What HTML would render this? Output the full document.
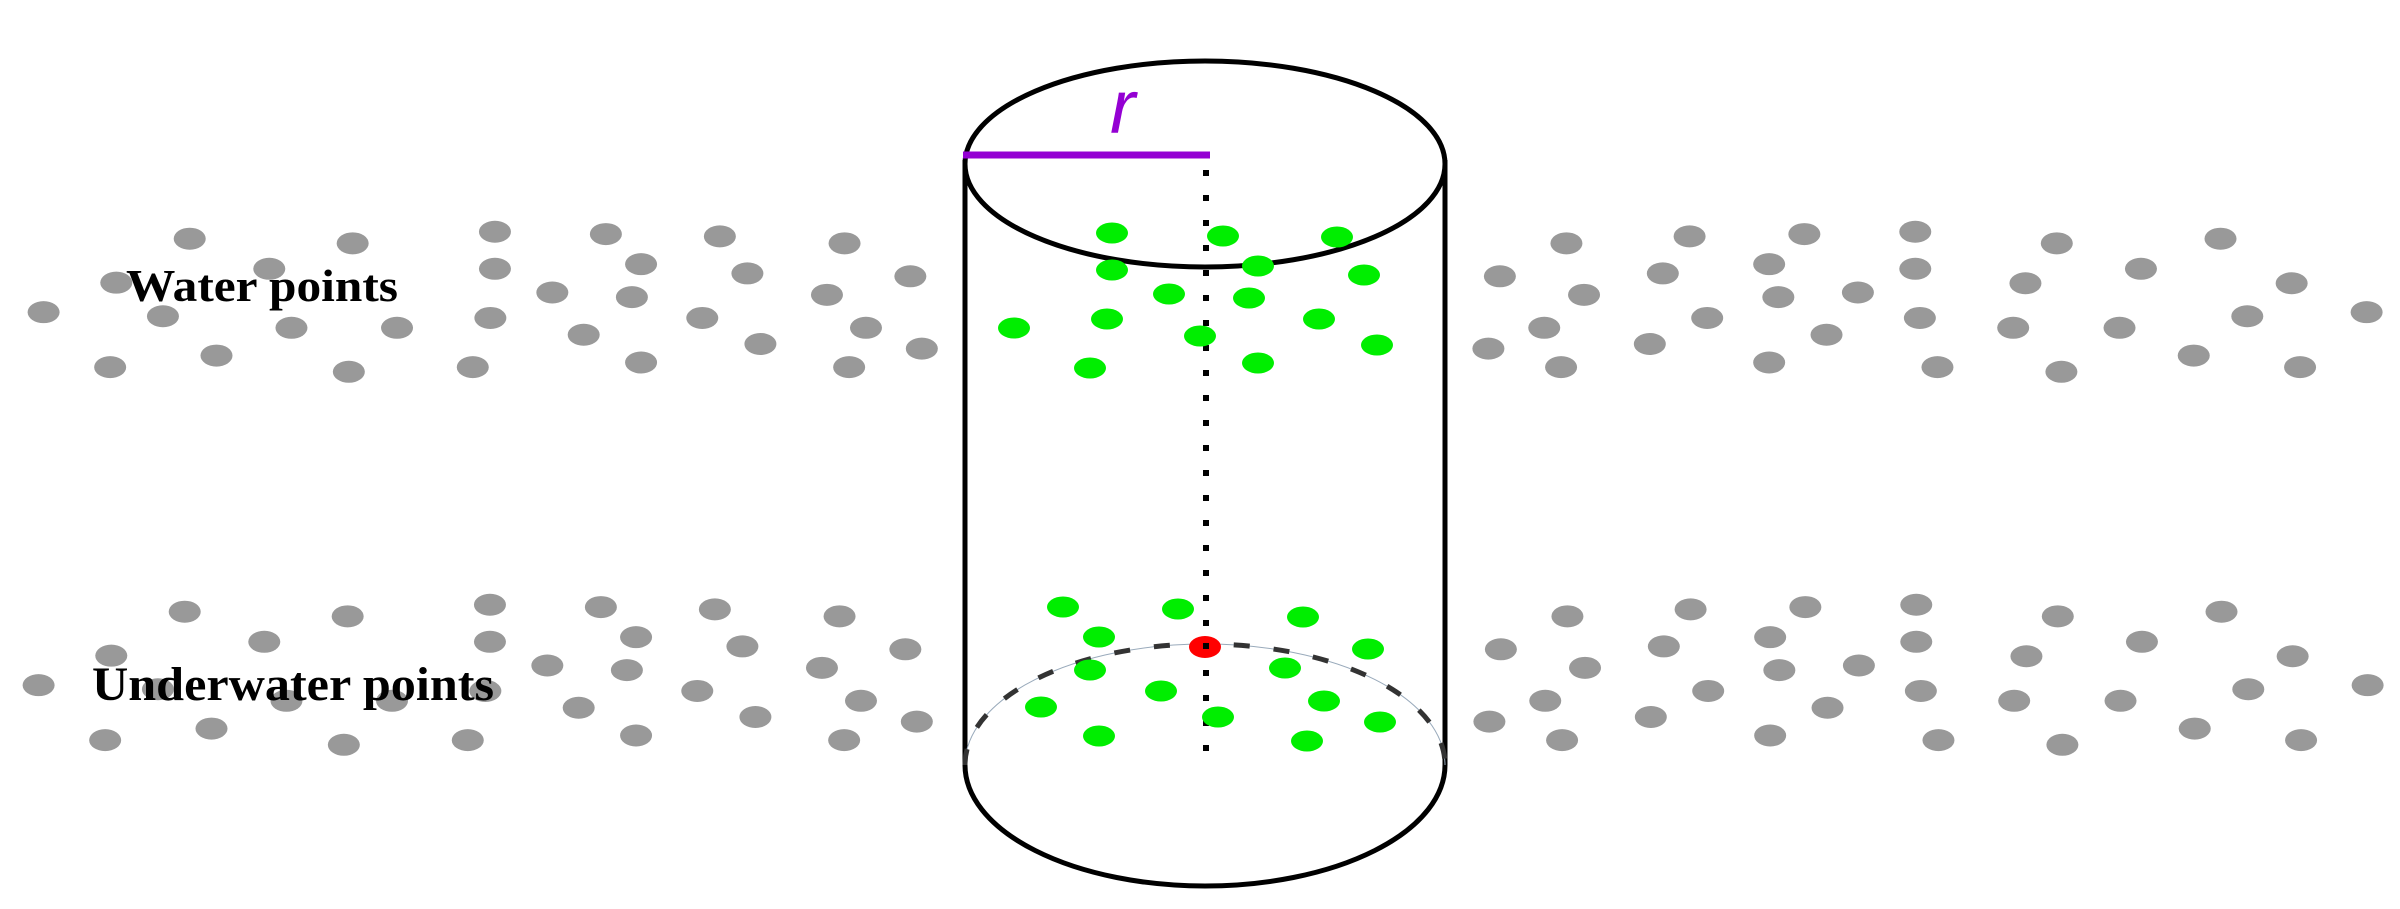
<!DOCTYPE html>
<html><head><meta charset="utf-8"><style>
html,body{margin:0;padding:0;background:#fff;width:2400px;height:909px;overflow:hidden}
</style></head><body>
<svg id="s" width="2400" height="909" viewBox="0 0 2400 909" xmlns="http://www.w3.org/2000/svg">
<g id="gray" fill="#999"></g>
<text x="126" y="301" font-family="Liberation Serif, serif" font-weight="bold" font-size="46" textLength="272" lengthAdjust="spacingAndGlyphs" fill="#000">Water points</text>
<text x="92" y="700" font-family="Liberation Serif, serif" font-weight="bold" font-size="48" textLength="402" lengthAdjust="spacingAndGlyphs" fill="#000">Underwater points</text>
<!-- cylinder -->
<line x1="965" y1="160" x2="965" y2="765" stroke="#000" stroke-width="5"/>
<line x1="1445" y1="160" x2="1445" y2="765" stroke="#000" stroke-width="5"/>
<ellipse cx="1205" cy="164" rx="240" ry="103" fill="none" stroke="#000" stroke-width="5"/>
<path d="M965 765 A240 121 0 0 0 1445 765" fill="none" stroke="#000" stroke-width="5"/>
<path d="M965 765 A240 121 0 0 1 1445 765" fill="none" stroke="#9ab" stroke-width="1"/>
<path d="M965 765 A240 121 0 0 1 1445 765" fill="none" stroke="#333" stroke-width="5" stroke-dasharray="16 24"/>
<line x1="1206" y1="170" x2="1206" y2="770" stroke="#000" stroke-width="6" stroke-dasharray="6 19"/>
<line x1="963" y1="155" x2="1210" y2="155" stroke="#9400d3" stroke-width="7"/>
<text x="1110" y="133" font-family="Liberation Sans, sans-serif" font-style="italic" font-size="76" fill="#9400d3">r</text>
<g id="green" fill="#00ee00"></g>
<ellipse cx="1205" cy="647" rx="16" ry="11" fill="#ff0000"/>
<rect x="1203" y="643" width="6" height="6" fill="#000"/>
</svg>
<script>
var NS="http://www.w3.org/2000/svg";
function add(g,x,y,rx,ry){var e=document.createElementNS(NS,"ellipse");e.setAttribute("cx",x);e.setAttribute("cy",y);e.setAttribute("rx",rx);e.setAttribute("ry",ry);document.getElementById(g).appendChild(e);}
var L=[[248,412],[461,420],[647,400],[792,404],[941,408],[1104,420],[352,464],[152,488],[647,464],[838,456],[977,472],[1190,477],[722,505],[826,513],[1081,509],[57,539],[213,546],[641,549],[918,549],[381,566],[519,566],[1132,566],[763,578],[994,594],[1205,602],[283,614],[144,634],[456,642],[618,634],[838,626],[1110,634]];
var R=[[479,420],[640,408],[790,404],[935,400],[1120,420],[1334,412],[392,477],[605,472],[744,456],[935,464],[1079,489],[1230,464],[1427,489],[502,509],[756,513],[860,505],[450,566],[663,549],[941,549],[1063,566],[1202,566],[1369,546],[1525,539],[377,602],[588,594],[819,578],[472,634],[744,626],[964,634],[1126,642],[1299,614],[1438,634]];
function fy(z){return 238.7+(z-412)*0.5786;}
L.forEach(function(p){var x=p[0]*0.765,y=fy(p[1]);add("gray",x,y,16,11);add("gray",x-5,y+373,16,11);});
R.forEach(function(p){var x=1200+p[0]*0.765,y=fy(p[1]);add("gray",x,y,16,11);add("gray",x+1,y+373,16,11);});
var G=[[1112,233],[1223,236],[1337,237],[1112,270],[1258,266],[1364,275],[1169,294],[1249,298],[1107,319],[1319,319],[1014,328],[1200,336],[1377,345],[1090,368],[1258,363],
[1063,607],[1178,609],[1303,617],[1099,637],[1368,649],[1090,670],[1285,668],[1161,691],[1041,707],[1324,701],[1218,717],[1380,722],[1099,736],[1307,741]];
G.forEach(function(p){add("green",p[0],p[1],16,10.5);});
</script>
</body></html>
